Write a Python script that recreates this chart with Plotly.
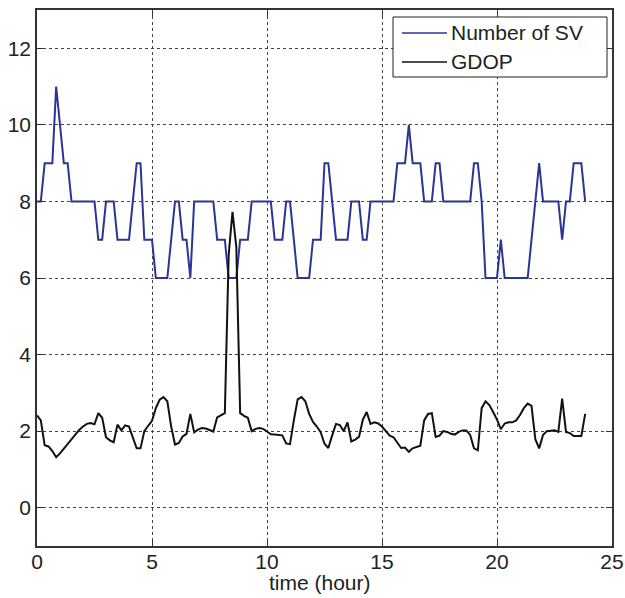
import plotly.graph_objects as go

# time step: 10 minutes
n_points = 144
time_hour = [i / 6 for i in range(n_points)]

num_sv = [
    8, 8, 9, 9, 9, 11, 10, 9, 9, 8,
    8, 8, 8, 8, 8, 8, 7, 7, 8, 8,
    8, 7, 7, 7, 7, 8, 9, 9, 7, 7,
    7, 6, 6, 6, 6, 7, 8, 8, 7, 7,
    6, 8, 8, 8, 8, 8, 8, 7, 7, 7,
    6, 6, 6, 7, 7, 7, 8, 8, 8, 8,
    8, 8, 7, 7, 7, 8, 8, 7, 6, 6,
    6, 6, 7, 7, 7, 9, 9, 8, 7, 7,
    7, 7, 8, 8, 8, 7, 7, 8, 8, 8,
    8, 8, 8, 8, 9, 9, 9, 10, 9, 9,
    9, 8, 8, 8, 9, 9, 8, 8, 8, 8,
    8, 8, 8, 8, 9, 9, 8, 6, 6, 6,
    6, 7, 6, 6, 6, 6, 6, 6, 6, 7,
    8, 9, 8, 8, 8, 8, 8, 7, 8, 8,
    9, 9, 9, 8,
]

gdop = [
    2.41, 2.28, 1.63, 1.60, 1.48, 1.32, 1.42, 1.54, 1.66, 1.79,
    1.92, 2.03, 2.12, 2.19, 2.21, 2.18, 2.47, 2.35, 1.84, 1.76,
    1.71, 2.17, 2.02, 2.15, 2.12, 1.85, 1.55, 1.55, 2.00, 2.14,
    2.27, 2.60, 2.82, 2.89, 2.78, 2.12, 1.65, 1.69, 1.86, 1.93,
    2.45, 1.97, 2.04, 2.08, 2.07, 2.03, 1.99, 2.36, 2.42, 2.47,
    6.60, 7.73, 6.80, 2.47, 2.40, 2.35, 2.00, 2.06, 2.08, 2.06,
    1.99, 1.92, 1.91, 1.90, 1.89, 1.68, 1.66, 2.28, 2.83, 2.89,
    2.78, 2.45, 2.24, 2.12, 1.97, 1.67, 1.56, 1.89, 2.19, 2.16,
    2.00, 2.23, 1.73, 1.78, 1.85, 2.30, 2.50, 2.19, 2.23, 2.20,
    2.12, 2.00, 1.88, 1.84, 1.70, 1.56, 1.57, 1.46, 1.55, 1.58,
    1.62, 2.28, 2.45, 2.47, 1.85, 1.88, 2.00, 1.98, 1.93, 1.91,
    1.98, 2.02, 2.02, 1.90, 1.55, 1.50, 2.60, 2.78, 2.68, 2.50,
    2.30, 2.05, 2.20, 2.23, 2.23, 2.28, 2.42, 2.60, 2.72, 2.66,
    1.79, 1.55, 1.90, 2.00, 2.02, 2.02, 1.98, 2.85, 1.98, 1.95,
    1.87, 1.87, 1.87, 2.45,
]

series_names = ["Number of SV", "GDOP"]
series_colors = ["#2b3596", "#111111"]

x_ticks = [0, 5, 10, 15, 20, 25]
y_ticks = [0, 2, 4, 6, 8, 10, 12]
x_title = "time (hour)"

FONT = "Liberation Sans, Arial, Helvetica, sans-serif"
FS = 21
TXT = "#222222"

W, H = 625, 598
ML, MR, MT, MB = 37, 13, 10, 52
PW, PH = W - ML - MR, H - MT - MB


def px_x(p):
    return (p - ML) / PW


def px_y(p):
    return (H - MB - p) / PH


fig = go.Figure()
for name, ys, col in zip(series_names, [num_sv, gdop], series_colors):
    fig.add_trace(go.Scatter(x=time_hour, y=ys, mode="lines", name=name,
                             line=dict(color=col, width=2), showlegend=False))

axis_common = dict(
    showline=True, linecolor="#333333", linewidth=1.5, mirror="ticks",
    ticks="inside", ticklen=6, tickcolor="#333333", tickwidth=1,
    showgrid=True, gridcolor="#444444", gridwidth=1, griddash="3px,3px",
    zeroline=False, automargin=False,
    tickfont=dict(size=FS, color=TXT, family=FONT),
)

fig.update_xaxes(range=[0, 25], tickvals=x_ticks, ticktext=[str(v) for v in x_ticks],
                 ticklabelstandoff=-4, **axis_common)
fig.update_yaxes(range=[-1, 13], tickvals=y_ticks, ticktext=[str(v) for v in y_ticks],
                 **axis_common)

# legend box drawn like the MATLAB legend
shapes = [dict(type="rect", xref="paper", yref="paper",
               x0=px_x(393), x1=px_x(607), y0=px_y(77), y1=px_y(17),
               fillcolor="white", line=dict(color="#222222", width=1), layer="above")]
annotations = [dict(xref="paper", yref="paper", x=px_x(320), y=px_y(582),
                    xanchor="center", yanchor="middle", showarrow=False,
                    text=x_title, font=dict(size=FS, family=FONT, color=TXT))]
row_y = [33, 62]
for name, col, ry in zip(series_names, series_colors, row_y):
    shapes.append(dict(type="line", xref="paper", yref="paper",
                       x0=px_x(402), x1=px_x(447), y0=px_y(ry), y1=px_y(ry),
                       line=dict(color=col, width=1.5), layer="above"))
    annotations.append(dict(xref="paper", yref="paper", x=px_x(449), y=px_y(ry),
                            xanchor="left", yanchor="middle", showarrow=False,
                            text=name, font=dict(size=FS, family=FONT, color=TXT)))

fig.update_layout(
    width=W, height=H,
    margin=dict(l=ML, r=MR, t=MT, b=MB),
    plot_bgcolor="white", paper_bgcolor="white",
    font=dict(family=FONT, size=FS, color=TXT),
    shapes=shapes, annotations=annotations,
    showlegend=False,
)

fig.write_html("out.html")
